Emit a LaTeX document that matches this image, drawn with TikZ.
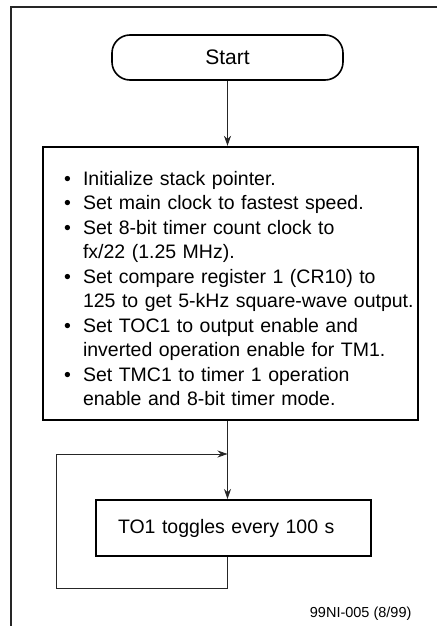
\documentclass[tikz,border=0pt]{standalone}
\usepackage{fontspec}
\setmainfont{Liberation Sans}
\usepackage{enumitem}
\usetikzlibrary{arrows.meta, positioning}

\begin{document}
\begin{tikzpicture}[x=1pt, y=-1pt,
        every node/.style={font=\fontsize{19.5}{24.5}\selectfont},
        terminal/.style={draw, line width=1.6pt, rounded corners=18pt, minimum width=231pt, minimum height=45pt},
        process/.style={draw, line width=2.2pt, inner sep=0pt},
        link/.style={line width=0.8pt, draw=black!85},
        flow/.style={link, -{Stealth[length=10pt, width=7pt]}}
    ]
        \useasboundingbox (0,0) rectangle (437,626);
        % Khung ngoài
        \draw[line width=1.2pt, black!85] (437,7) -- (11,7) -- (11,626);

        % Các khối
        \node[terminal, font=\fontsize{21}{25}\selectfont] (start) at (227.5,57.5) {Start};
        \node[process, below=65pt of start, xshift=3pt, minimum width=375pt, minimum height=273pt, text width=369pt] (init) {\raggedright
            \begin{itemize}[nosep, leftmargin=37pt, labelsep=12pt]
                \item Initialize stack pointer.
                \item Set main clock to fastest speed.
                \item Set 8-bit timer count clock to\newline fx/22 (1.25 MHz).
                \item Set compare register 1 (CR10) to\newline 125 to get 5-kHz square-wave output.
                \item Set TOC1 to output enable and\newline inverted operation enable for TM1.
                \item Set TMC1 to timer 1 operation\newline enable and 8-bit timer mode.
            \end{itemize}};
        \node[process, below=78pt of init, xshift=3pt, minimum width=275pt, minimum height=56pt, text width=231pt, align=left] (toggle) {TO1 toggles every 100 s};
        \node[font=\fontsize{14.5}{16}\selectfont, anchor=base east] (figno) at (415,617) {99NI-005 (8/99)};

        % Các liên kết
        \coordinate (join) at (227.5,454);
        \coordinate (loop) at (56,588);
        \draw[flow] (start) -- (start |- init.north);
        \draw[flow] (init.south -| start) -- (toggle.north -| start);
        \draw[flow] (toggle.south -| start) |- (loop) |- (join);
    \end{tikzpicture}
\end{document}
